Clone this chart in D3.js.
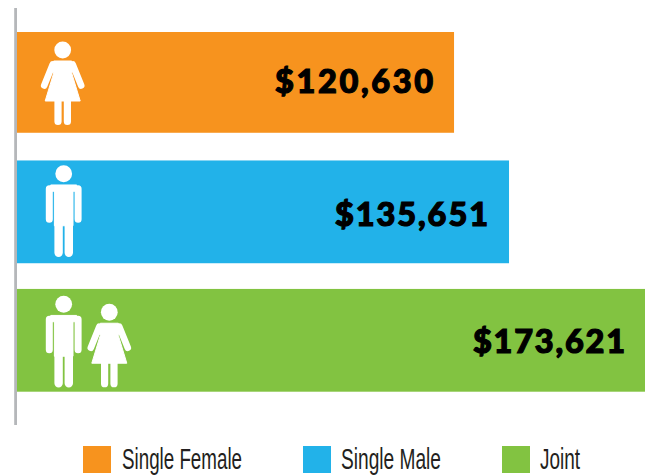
<!DOCTYPE html>
<html><head><meta charset="utf-8">
<script src="https://cdn.jsdelivr.net/npm/d3@7"></script>
<style>html,body{margin:0;padding:0;background:#fff}svg{display:block}</style>
</head><body><svg id="c" width="645" height="475"></svg>
<script>
const categories = ["Single Female", "Single Male", "Joint"];
const values = [120630, 135651, 173621];
const colors = ["#F7931E", "#22B2E9", "#82C341"];
const icons = [["female"], ["male"], ["male", "female"]];

const svg = d3.select("#c");
const barLeft = 17;
const x = d3.scaleLinear().domain([0, 173621]).range([12.5, 648]);
const y = d3.scaleBand().domain(categories).range([32, 391.7]).paddingInner(0.2).paddingOuter(0);
const color = d3.scaleOrdinal().domain(categories).range(colors);
const barTrim = [2, 0, 0];

svg.selectAll("rect.bar").data(categories).join("rect").attr("class", "bar")
  .attr("x", barLeft).attr("y", d => y(d)).attr("height", (d, i) => y.bandwidth() - barTrim[i])
  .attr("width", (d, i) => x(values[i]) - barLeft).attr("fill", d => color(d));

svg.append("rect").attr("x", 14.2).attr("y", 8).attr("width", 2.8).attr("height", 417).attr("fill", "#b5b7ba");

function drawFemale(g) {
  g.append("circle").attr("r", 8.4).attr("fill", "#fff");
  g.append("path").attr("fill", "#fff").attr("stroke", "#fff").attr("stroke-width", 1).attr("stroke-linejoin", "round")
    .attr("d", "M-9,11 L9,11 L11,20 L9,23 L17.5,51 L-17.5,51 L-9,23 L-11,20 Z");
  g.append("path").attr("fill", "none").attr("stroke", "#fff").attr("stroke-width", 6.6).attr("stroke-linecap", "round")
    .attr("d", "M-10,14.5 L-18.5,35.5 M10,14.5 L18.5,35.5");
  g.append("path").attr("fill", "none").attr("stroke", "#fff").attr("stroke-width", 7.2).attr("stroke-linecap", "round")
    .attr("d", "M-4.7,48 L-4.7,71.5 M4.7,48 L4.7,71.5");
}
function drawMale(g) {
  g.append("circle").attr("r", 8.4).attr("fill", "#fff");
  g.append("path").attr("fill", "#fff").attr("stroke", "#fff").attr("stroke-width", 1).attr("stroke-linejoin", "round")
    .attr("d", "M-13,11.2 L13,11.2 L13,17.5 L-13,17.5 Z M-9.3,17 L9.3,17 L9.3,52 L-9.3,52 Z");
  g.append("path").attr("fill", "none").attr("stroke", "#fff").attr("stroke-width", 7).attr("stroke-linecap", "round")
    .attr("d", "M-14.4,15 L-14.4,45.5 M14.4,15 L14.4,45.5");
  g.append("path").attr("fill", "none").attr("stroke", "#fff").attr("stroke-width", 8.4).attr("stroke-linecap", "round")
    .attr("d", "M-5.1,50 L-5.1,79 M5.1,50 L5.1,79");
}
const iconPos = { "0-female": [62.7, 18], "1-male": [63.7, 13.3], "2-male": [63.7, 15.3], "2-female": [109.3, 23.3] };
icons.forEach((list, i) => list.forEach(kind => {
  const p = iconPos[i + "-" + kind];
  const g = svg.append("g").attr("transform", `translate(${p[0]},${y(categories[i]) + p[1]})`);
  (kind === "female" ? drawFemale : drawMale)(g);
}));

const fmt = d3.format("$,");
const labelLeft = [275, 335, 473];
const labelWidth = [158, 153, 152];
const labelBase = [93, 226, 352.5];
svg.selectAll("text.val").data(values).join("text").attr("class", "val")
  .attr("x", (d, i) => labelLeft[i]).attr("y", (d, i) => labelBase[i])
  .attr("textLength", (d, i) => labelWidth[i]).attr("lengthAdjust", "spacing")
  .attr("font-family", "Lato").attr("font-weight", 900)
  .attr("font-size", 32.5).attr("fill", "#000").attr("stroke", "#000").attr("stroke-width", 1.2)
  .text(d => fmt(d));

const legendSwatchX = [83, 303, 502];
const legendTextX = [122, 341, 540];
const legendTextW = [120, 100, 40];
categories.forEach((c, i) => {
  svg.append("rect").attr("x", legendSwatchX[i]).attr("y", 446).attr("width", 28).attr("height", 27).attr("fill", color(c));
  svg.append("text").attr("x", legendTextX[i]).attr("y", 468.5)
    .attr("font-family", "'Liberation Sans'").attr("font-size", 29)
    .attr("textLength", legendTextW[i]).attr("lengthAdjust", "spacingAndGlyphs")
    .attr("fill", "#231f20").text(c);
});
</script></body></html>
